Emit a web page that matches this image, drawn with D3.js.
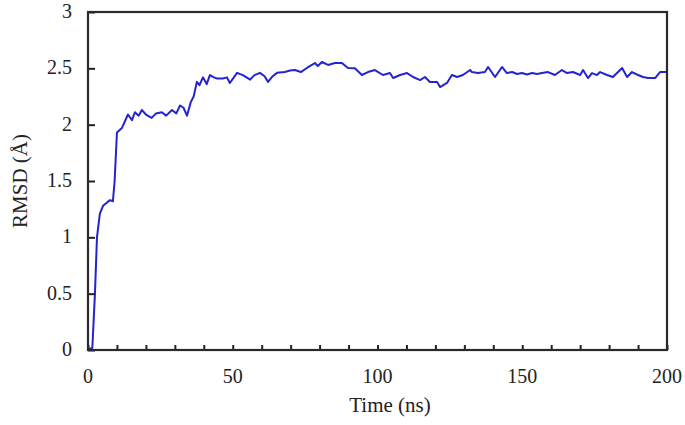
<!DOCTYPE html>
<html>
<head>
<meta charset="utf-8">
<script src="https://cdn.jsdelivr.net/npm/d3@7"></script>
<style>
  html, body { margin: 0; padding: 0; background: #fff; }
  svg { display: block; }
  text { font-family: "Liberation Serif", "Times New Roman", serif; fill: #222; }
</style>
</head>
<body>
<svg id="chart" width="685" height="425"></svg>
<script>
// Data
const time = [0, 1.5, 2.4, 3.1, 4.1, 5.2, 6.6, 7.6, 8.6, 9.2, 10, 11.7, 13.8, 15.2, 16.2, 17.5, 18.6, 20, 22, 23.5,
  25.5, 27, 29, 30.5, 31.8, 33, 34.2, 35.5, 36.5, 37.6, 38.5, 39.7, 41, 42.1, 43.5, 44.6, 46.6, 48, 49, 51.5,
  53.5, 56, 57.5, 59.4, 61, 62.2, 63.8, 65.3, 68, 69.8, 71.5, 73.5, 76, 78.4, 79.4, 80.8, 82.9, 85.3, 87.7, 89.8,
  92.2, 94.6, 96.7, 99.1, 101.9, 104.3, 105.4, 107.8, 110.2, 112.3, 114.7, 116.4, 118.1, 120.6, 121.6, 124, 125.7, 127.5, 129.5, 132,
  132.6, 134.7, 137.1, 138.2, 140.6, 143, 144.7, 146.5, 148.2, 149.9, 151.6, 153.4, 155.1, 156.8, 158.9, 161.3, 163.7, 165.5, 167.5, 170,
  171, 172.7, 174.1, 175.8, 176.9, 179.3, 181.3, 184.5, 186.2, 187.9, 190, 191.7, 193.4, 195.9, 197.6, 200];
const rmsd = [0, 0.02, 0.5, 1.0, 1.21, 1.28, 1.31, 1.33, 1.32, 1.5, 1.93, 1.97, 2.09, 2.04, 2.11, 2.08, 2.13, 2.09, 2.06, 2.1,
  2.11, 2.08, 2.13, 2.10, 2.17, 2.15, 2.08, 2.2, 2.25, 2.38, 2.35, 2.42, 2.36, 2.44, 2.42, 2.41, 2.41, 2.42, 2.37, 2.46,
  2.44, 2.40, 2.44, 2.46, 2.43, 2.38, 2.43, 2.46, 2.467, 2.48, 2.485, 2.467, 2.51, 2.547, 2.52, 2.556, 2.53, 2.547, 2.547, 2.503,
  2.50, 2.441, 2.467, 2.485, 2.441, 2.458, 2.414, 2.441, 2.458, 2.423, 2.396, 2.423, 2.379, 2.379, 2.334, 2.37, 2.441, 2.423, 2.441, 2.485,
  2.467, 2.458, 2.467, 2.512, 2.423, 2.512, 2.458, 2.467, 2.45, 2.458, 2.445, 2.458, 2.45, 2.458, 2.467, 2.441, 2.485, 2.458, 2.467, 2.441,
  2.485, 2.414, 2.458, 2.44, 2.467, 2.441, 2.423, 2.503, 2.423, 2.467, 2.441, 2.423, 2.414, 2.414, 2.467, 2.467];
const xTicks = [0, 50, 100, 150, 200];
const yTicks = [0, 0.5, 1, 1.5, 2, 2.5, 3];
const xMinorTicks = d3.range(0, 201, 10);
const xTitle = "Time (ns)";
const yTitle = "RMSD (Å)";

const svg = d3.select("#chart");
const L = 88, R = 667, T = 12, B = 350;
const x = d3.scaleLinear().domain([0, 200]).range([L, R]);
const y = d3.scaleLinear().domain([0, 3]).range([B, T]);

// line
const pts = time.map((t, i) => [t, rmsd[i]]);
svg.append("path")
  .datum(pts)
  .attr("fill", "none")
  .attr("stroke", "#2323d2")
  .attr("stroke-width", 2)
  .attr("stroke-linejoin", "round")
  .attr("d", d3.line().x(d => x(d[0])).y(d => y(d[1])));

// x axis: minor inward ticks
const xAxis = svg.append("g").attr("transform", `translate(0,${B})`)
  .call(d3.axisBottom(x).tickValues(xMinorTicks).tickSize(-5).tickFormat(""));
xAxis.select(".domain").remove();
xAxis.selectAll("line").attr("stroke", "#222").attr("stroke-width", 2);

// x labels
svg.append("g").selectAll("text").data(xTicks).join("text")
  .attr("x", d => x(d)).attr("y", 383)
  .attr("text-anchor", "middle")
  .attr("font-size", 20)
  .text(d => d);

// y axis inward ticks
const yAxis = svg.append("g").attr("transform", `translate(${L},0)`)
  .call(d3.axisLeft(y).tickValues(yTicks).tickSize(-7).tickFormat(""));
yAxis.select(".domain").remove();
yAxis.selectAll("line").attr("stroke", "#222").attr("stroke-width", 2);

svg.append("g").selectAll("text").data(yTicks).join("text")
  .attr("x", 72).attr("y", d => y(d) + 6)
  .attr("text-anchor", "end")
  .attr("font-size", 20)
  .text(d => d);

// frame
svg.append("rect")
  .attr("x", L).attr("y", T).attr("width", R - L).attr("height", B - T)
  .attr("fill", "none").attr("stroke", "#2a2a2a").attr("stroke-width", 2.2);

// titles
svg.append("text")
  .attr("x", 390).attr("y", 412)
  .attr("text-anchor", "middle")
  .attr("font-size", 21)
  .text(xTitle);

svg.append("text")
  .attr("transform", `translate(27,${(T + B) / 2}) rotate(-90)`)
  .attr("text-anchor", "middle")
  .attr("font-size", 21)
  .text(yTitle);
</script>
</body>
</html>
